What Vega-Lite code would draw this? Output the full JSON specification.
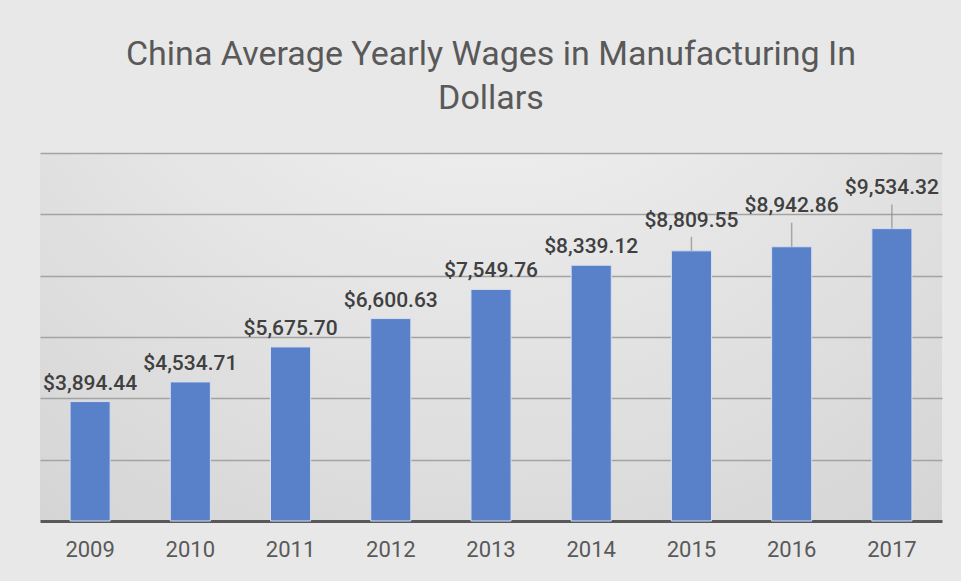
{
  "$schema": "https://vega.github.io/schema/vega-lite/v6.json",
  "autosize": "none",
  "width": 902,
  "height": 368,
  "padding": {"left": 40, "top": 153, "right": 19, "bottom": 60},
  "background": "#e8e8e8",
  "title": {
    "text": ["China Average Yearly Wages in Manufacturing In", "Dollars"],
    "font": "Roboto",
    "fontSize": 34,
    "fontWeight": "normal",
    "color": "#595959",
    "anchor": "middle",
    "lineHeight": 44,
    "offset": 37
  },
  "config": {
    "view": {
      "stroke": null,
      "fill": {
        "gradient": "radial",
        "x1": 0.5, "y1": 0.0, "r1": 0,
        "x2": 0.5, "y2": 0.0, "r2": 1.1,
        "stops": [
          {"offset": 0, "color": "#f8f8f8"},
          {"offset": 1, "color": "#cbcbcb"}
        ]
      }
    }
  },
  "data": {
    "values": [
      {"year": "2009", "wage": 3894.44},
      {"year": "2010", "wage": 4534.71},
      {"year": "2011", "wage": 5675.70},
      {"year": "2012", "wage": 6600.63},
      {"year": "2013", "wage": 7549.76},
      {"year": "2014", "wage": 8339.12},
      {"year": "2015", "wage": 8809.55},
      {"year": "2016", "wage": 8942.86},
      {"year": "2017", "wage": 9534.32}
    ]
  },
  "encoding": {
    "x": {
      "field": "year",
      "type": "nominal",
      "scale": {"paddingInner": 0.6, "paddingOuter": 0.3},
      "axis": {
        "title": null,
        "labelAngle": 0,
        "labelFont": "Roboto",
        "labelFontSize": 22,
        "labelColor": "#595959",
        "labelPadding": 18,
        "ticks": false,
        "domainColor": "#595959",
        "domainWidth": 3
      }
    },
    "y": {
      "field": "wage",
      "type": "quantitative",
      "scale": {"domain": [0, 12000]},
      "axis": {
        "title": null,
        "labels": false,
        "ticks": false,
        "domain": false,
        "values": [2000, 4000, 6000, 8000, 10000, 12000],
        "gridColor": "#a3a3a3",
        "gridWidth": 1.5
      }
    }
  },
  "layer": [
    {
      "mark": {"type": "bar", "color": "#5981c9", "stroke": "#d6def0", "strokeWidth": 1}
    },
    {
      "transform": [{"filter": "datum.year < '2015'"}],
      "mark": {"type": "text", "dy": -12, "baseline": "alphabetic", "font": "Roboto", "fontSize": 21, "fontWeight": 500, "color": "#404040"},
      "encoding": {"text": {"field": "wage", "type": "quantitative", "format": "$,.2f"}}
    },
    {
      "transform": [{"filter": "datum.year == '2015'"}],
      "mark": {"type": "text", "dy": -24, "baseline": "alphabetic", "font": "Roboto", "fontSize": 21, "fontWeight": 500, "color": "#404040"},
      "encoding": {"text": {"field": "wage", "type": "quantitative", "format": "$,.2f"}}
    },
    {
      "transform": [{"filter": "datum.year > '2015'"}],
      "mark": {"type": "text", "dy": -35, "baseline": "alphabetic", "font": "Roboto", "fontSize": 21, "fontWeight": 500, "color": "#404040"},
      "encoding": {"text": {"field": "wage", "type": "quantitative", "format": "$,.2f"}}
    },
    {
      "transform": [{"filter": "datum.year == '2015'"}],
      "mark": {"type": "tick", "orient": "vertical", "size": 14, "thickness": 1.5, "yOffset": -7, "color": "#8c8c8c"}
    },
    {
      "transform": [{"filter": "datum.year > '2015'"}],
      "mark": {"type": "tick", "orient": "vertical", "size": 24, "thickness": 1.5, "yOffset": -12, "color": "#8c8c8c"}
    }
  ]
}
